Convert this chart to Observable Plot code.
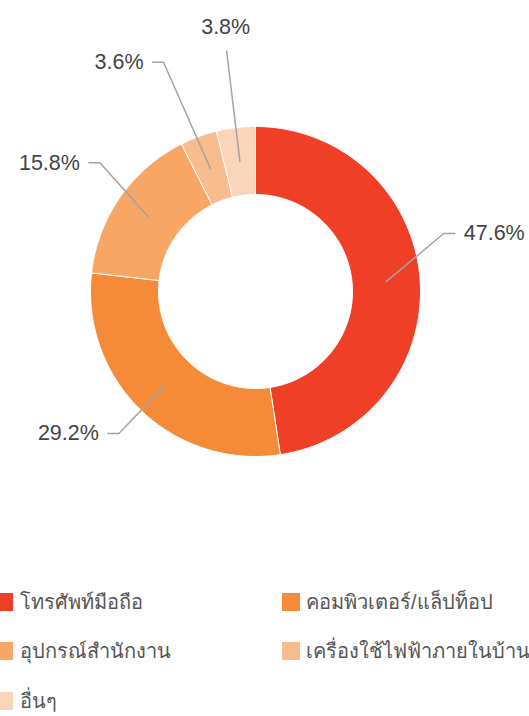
<!DOCTYPE html>
<html>
<head>
<meta charset="utf-8">
<script src="https://cdn.jsdelivr.net/npm/d3@7"></script>
<script src="https://cdn.jsdelivr.net/npm/@observablehq/plot@0.6"></script>
<style>
  html, body { margin: 0; padding: 0; background: #fff; overflow: hidden; }
  #wrap { width: 529px; height: 716px; position: relative; }
  #legend {
    position: absolute; left: 0; top: 577px; width: 529px;
    display: grid; grid-template-columns: 282px 247px; grid-auto-rows: 49.5px;
    font-family: "Liberation Sans", "Noto Sans", sans-serif; font-size: 20px; color: #555;
  }
  .item { display: flex; align-items: center; white-space: nowrap; }
  .sw { width: 18px; height: 18px; flex: none; margin-right: 6px; }
  .item.c0 { margin-left: -5px; }
  .item.c0 .sw { margin-right: 7px; }
</style>
</head>
<body>
<div id="wrap"><div id="chart"></div><div id="legend"></div></div>
<script>
// ---- data ----
const categories = ["โทรศัพท์มือถือ", "คอมพิวเตอร์/แล็ปท็อป", "อุปกรณ์สำนักงาน", "เครื่องใช้ไฟฟ้าภายในบ้าน", "อื่นๆ"];
const values = [47.6, 29.2, 15.8, 3.6, 3.8];
const labels = ["47.6%", "29.2%", "15.8%", "3.6%", "3.8%"];
const colors = ["#EF3F26", "#F58A38", "#F7A665", "#F9BC8E", "#FBD5BA"];

// ---- layout (label placement tweaks, degrees / px distance from centre) ----
const labelShift = [-12.8, 0, 4.7, -1.7, 0];
const labelDist = [197, 197, 202, 247, 242];
const R = 165, r0 = 97, rMid = 131;

const total = d3.sum(values);
const rad = a => a * Math.PI / 180;
const pt = (a, r) => ({x: r * Math.sin(rad(a)), y: r * Math.cos(rad(a))});

let acc = 0;
const slices = values.map((v, i) => {
  const a0 = acc / total * 360; acc += v; const a1 = acc / total * 360;
  return {i, a0, a1, mid: (a0 + a1) / 2};
});

const poly = [];
for (const s of slices) {
  const n = Math.max(4, Math.ceil(s.a1 - s.a0));
  const pts = [];
  for (let k = 0; k <= n; k++) pts.push(pt(s.a0 + (s.a1 - s.a0) * k / n, R));
  for (let k = n; k >= 0; k--) pts.push(pt(s.a0 + (s.a1 - s.a0) * k / n, r0));
  pts.push(pts[0]);
  for (const p of pts) poly.push({...p, cat: categories[s.i]});
}

const leaders = [], texts = [];
for (const s of slices) {
  const i = s.i;
  const start = pt(s.mid, rMid);
  const ea = s.mid + labelShift[i];
  const e = pt(ea, labelDist[i]);
  const sn = Math.sin(rad(ea));
  if (Math.abs(sn) < 0.15) {
    leaders.push({...start, k: i}, {...e, k: i});
    texts.push({x: e.x - 1, y: e.y + 24, t: labels[i], anchor: "middle"});
  } else {
    const dir = sn > 0 ? 1 : -1;
    const end = {x: e.x + dir * 11, y: e.y};
    leaders.push({...start, k: i}, {...e, k: i}, {...end, k: i});
    texts.push({x: end.x + dir * 9, y: e.y, t: labels[i], anchor: dir > 0 ? "start" : "end"});
  }
}

const textOpts = {x: "x", y: "y", text: "t", fill: "#444", fontSize: 21.5,
  fontFamily: "'Liberation Sans', Arial, sans-serif"};
const W = 529, H = 560, cx = 255, cy = 291;
const chart = Plot.plot({
  width: W, height: H,
  margin: 0,
  x: {domain: [-cx, W - cx], range: [0, W], axis: null},
  y: {domain: [-(H - cy), cy], range: [H, 0], axis: null},
  color: {domain: categories, range: colors},
  style: {background: "transparent"},
  marks: [
    Plot.line(poly, {x: "x", y: "y", z: "cat", fill: "cat", stroke: "#fff", strokeWidth: 1, curve: "linear"}),
    Plot.line(leaders, {x: "x", y: "y", z: "k", stroke: "#a3a3a3", strokeWidth: 1.5, curve: "linear"}),
    ...["start", "middle", "end"].map(a =>
      Plot.text(texts.filter(d => d.anchor === a), {...textOpts, textAnchor: a}))
  ]
});
document.getElementById("chart").appendChild(chart);

const lg = document.getElementById("legend");
categories.forEach((c, i) => {
  const it = document.createElement("div");
  it.className = "item c" + (i % 2);
  const sw = document.createElement("span");
  sw.className = "sw"; sw.style.background = colors[i];
  const tx = document.createElement("span");
  tx.textContent = c;
  it.appendChild(sw); it.appendChild(tx);
  lg.appendChild(it);
});
</script>
</body>
</html>
